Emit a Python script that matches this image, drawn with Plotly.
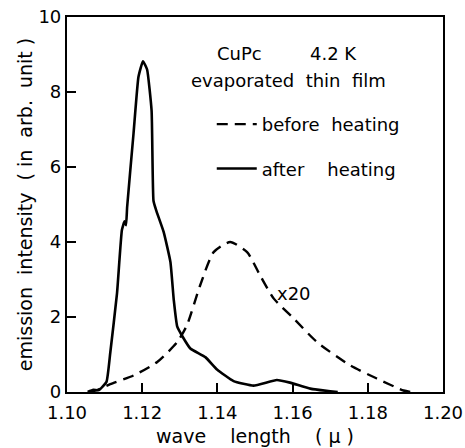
import plotly.graph_objects as go

# after heating (solid)
after_x = [1.1055, 1.107, 1.1085, 1.1105, 1.1115, 1.1133, 1.1146, 1.1153, 1.1157, 1.116, 1.1177, 1.119,
           1.1202, 1.1213, 1.1225, 1.123, 1.1237, 1.1257, 1.1275, 1.1284, 1.1293, 1.1306, 1.1328,
           1.1368, 1.1399, 1.1443, 1.1496, 1.1558, 1.1593, 1.1647, 1.170, 1.172]
after_y = [0.0, 0.06, 0.05, 0.27, 1.04, 2.63, 4.32, 4.55, 4.45, 4.94, 6.9, 8.4,
           8.82, 8.6, 7.5, 5.1, 4.85, 4.27, 3.47, 2.45, 1.75, 1.5, 1.16,
           0.93, 0.6, 0.29, 0.17, 0.32, 0.25, 0.09, 0.02, 0.0]

# before heating (dashed, x20)
before_x = [1.106, 1.108, 1.1115, 1.1177, 1.124, 1.1293, 1.1319, 1.1354, 1.139, 1.1434, 1.1479,
            1.1514, 1.155, 1.1603, 1.1665, 1.1753, 1.1824, 1.1895, 1.1915]
before_y = [0.0, 0.05, 0.21, 0.44, 0.80, 1.33, 1.78, 2.84, 3.73, 4.0, 3.73,
            3.1, 2.49, 1.96, 1.33, 0.71, 0.36, 0.04, 0.0]

x_ticks = [1.10, 1.12, 1.14, 1.16, 1.18, 1.20]
x_labels = ["1.10", "1.12", "1.14", "1.16", "1.18", "1.20"]
y_ticks = [0, 2, 4, 6, 8, 10]

FONT = "DejaVu Sans"
NB = "\u00a0"

fig = go.Figure()
fig.add_trace(go.Scatter(x=before_x, y=before_y, mode="lines", name="before" + NB * 2 + "heating",
                         line=dict(color="black", width=2.4, dash="11px,7px", shape="spline", smoothing=0.6),
                         legendgroup="a"))
fig.add_trace(go.Scatter(x=after_x, y=after_y, mode="lines", name="after" + NB * 4 + "heating",
                         line=dict(color="black", width=2.6, shape="spline", smoothing=0.4),
                         legendgroup="b"))

fig.update_layout(
    width=465, height=448,
    margin=dict(l=67, r=22, t=17, b=56),
    plot_bgcolor="white", paper_bgcolor="white",
    font=dict(family=FONT, color="black", size=17),
    showlegend=True,
    legend=dict(x=0.385, y=0.763, xanchor="left", yanchor="top", bgcolor="rgba(0,0,0,0)",
                font=dict(size=18), traceorder="grouped", tracegroupgap=18,
                itemwidth=40),
    xaxis=dict(range=[1.10, 1.20], tickvals=x_ticks, ticktext=x_labels, ticks="inside", ticklen=9,
               tickwidth=2, tickcolor="black", showline=True, linecolor="black", linewidth=2.2,
               mirror=True, showgrid=False, zeroline=False, automargin=False,
               ticklabelstandoff=3,
               title=dict(text="wave" + NB * 4 + "length" + NB * 4 + "(" + NB + "\u03bc" + NB + ")",
                          font=dict(size=19), standoff=8),
               tickfont=dict(size=18)),
    yaxis=dict(range=[0, 10], tickvals=y_ticks, ticks="inside", ticklen=9, tickwidth=2,
               tickcolor="black", showline=True, linecolor="black", linewidth=2.2, mirror=True,
               showgrid=False, zeroline=False, automargin=False,
               title=dict(text="emission" + NB * 2 + "intensity" + NB * 2 + "(" + NB + "in" + NB * 2
                          + "arb." + NB * 2 + "unit" + NB + ")",
                          font=dict(size=19), standoff=1),
               tickfont=dict(size=18)),
)

annots = [
    dict(x=1.146, y=9.04, text="CuPc"),
    dict(x=1.171, y=9.04, text="4.2 K"),
    dict(x=1.1588, y=8.32, text="evaporated" + NB * 2 + "thin" + NB * 2 + "film"),
    dict(x=1.1604, y=2.63, text="x20"),
]
for a in annots:
    fig.add_annotation(x=a["x"], y=a["y"], text=a["text"], showarrow=False,
                       font=dict(size=18, family=FONT), xref="x", yref="y")

fig.write_html("out.html")
